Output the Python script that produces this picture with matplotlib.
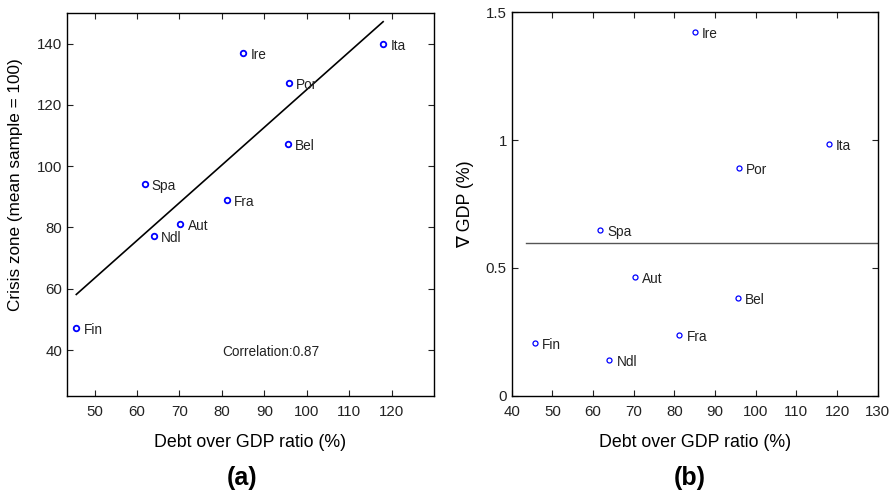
import numpy as np
import matplotlib
matplotlib.use("Agg")
import matplotlib.pyplot as plt

plt.rcParams["font.family"] = ["Liberation Sans", "DejaVu Sans"]

# Country codes and values
countries = ["Fin", "Spa", "Ndl", "Aut", "Fra", "Ire", "Por", "Bel", "Ita"]
debt_gdp = [45.7, 61.8, 64.0, 70.2, 81.2, 85.0, 95.8, 95.6, 118.0]
crisis_zone = [47.1, 94.1, 77.2, 81.1, 89.1, 137.0, 127.2, 107.2, 140.0]
gdp_growth = [0.205, 0.648, 0.140, 0.463, 0.239, 1.424, 0.891, 0.382, 0.985]


def style_axes(ax):
    ax.tick_params(direction="in", length=4, top=True, right=True,
                   labelsize=10.8, width=0.8, colors="#222222")
    ax.tick_params(axis="x", pad=6.5)
    for s in ax.spines.values():
        s.set_linewidth(1.0)


def label_points(ax, xs, ys):
    for name, x, y in zip(countries, xs, ys):
        ax.annotate(name, (x, y), xytext=(5.2, -1.5), textcoords="offset points",
                    fontsize=9.8, va="center", ha="left", color="#222222")


fig = plt.figure(figsize=(8.94, 4.94), dpi=100)

# (a) crisis zone vs debt
ax1 = fig.add_axes([0.0749, 0.1984, 0.4106, 0.7753])
x = np.array(debt_gdp)
y = np.array(crisis_zone)
slope, icpt = np.polyfit(x, y, 1)
xl = np.array([x.min(), x.max()])
ax1.plot(xl, slope * xl + icpt, color="black", lw=1.2)
ax1.plot(x, y, "o", mfc="none", mec="blue", ms=4, mew=1.3)
label_points(ax1, x, y)
ax1.text(80, 39.3, "Correlation:0.87", fontsize=9.8, va="center", ha="left",
         color="#222222")
ax1.set_xlim(43.5, 130)
ax1.set_ylim(25, 150)
ax1.set_xticks(np.arange(50, 121, 10))
ax1.set_yticks(np.arange(40, 141, 20))
ax1.set_xlabel("Debt over GDP ratio (%)", fontsize=12.8)
ax1.set_ylabel("Crisis zone (mean sample = 100)", fontsize=12.3)
ax1.xaxis.set_label_coords(0.5, -0.1)
ax1.yaxis.set_label_coords(-0.12, 0.553)
style_axes(ax1)

# (b) GDP growth vs debt
ax2 = fig.add_axes([0.5724, 0.199, 0.4094, 0.7761])
g = np.array(gdp_growth)
ax2.plot([43.5, 130], [g.mean(), g.mean()], color="#555555", lw=1.0)
ax2.plot(x, g, "o", mfc="none", mec="blue", ms=3.6, mew=0.9)
label_points(ax2, x, g)
ax2.set_xlim(40, 130)
ax2.set_ylim(0, 1.5)
ax2.set_xticks(np.arange(40, 131, 10))
ax2.set_yticks([0, 0.5, 1, 1.5])
ax2.set_yticklabels(["0", "0.5", "1", "1.5"])
ax2.set_xlabel("Debt over GDP ratio (%)", fontsize=12.8)
ax2.set_ylabel("\u2207 GDP (%)", fontsize=12.8)
ax2.xaxis.set_label_coords(0.5, -0.1)
ax2.yaxis.set_label_coords(-0.104, 0.5)
style_axes(ax2)

fig.text(0.2707, 0.0324, "(a)", fontsize=18, fontweight="bold",
         ha="center", va="center")
fig.text(0.7718, 0.0324, "(b)", fontsize=18, fontweight="bold",
         ha="center", va="center")

fig.savefig("out.png", dpi=100)
